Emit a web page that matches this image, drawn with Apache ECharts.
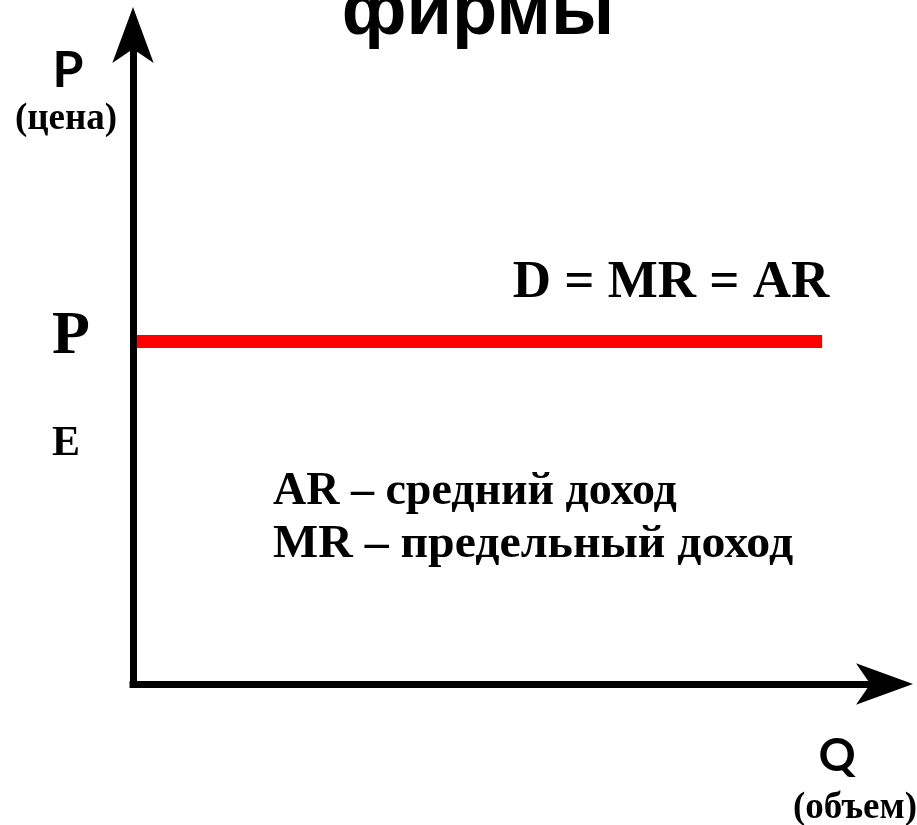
<!DOCTYPE html>
<html>
<head>
<meta charset="utf-8">
<title>Спрос на продукцию фирмы</title>
<script src="https://cdn.jsdelivr.net/npm/echarts@6/dist/echarts.min.js"></script>
<style>
  html, body { margin: 0; padding: 0; background: #fff; }
  #chart { width: 917px; height: 825px; }
</style>
</head>
<body>
<div id="chart"></div>
<script>
// данные: горизонтальная кривая спроса D = MR = AR
const quantity = [0.05, 9.02]
const price = [5.18, 5.18]

const axisRange = { x: [0, 10], y: [0, 10] }

const serif = '"Liberation Serif", "Times New Roman", serif'
const sans = '"Liberation Sans", Arial, sans-serif'
const label = '"Lato", "Open Sans", sans-serif'

// подписи
const texts = [
  { text: 'фирмы', x: 478, y: 14, font: sans, size: 74 },
  { text: 'P', x: 68, y: 71, font: label, size: 50 },
  { text: '(цена)', x: 66, y: 119, font: serif, size: 37 },
  { text: 'P', x: 71, y: 337, font: serif, size: 62 },
  { text: 'E', x: 66, y: 444, font: serif, size: 42 },
  { text: 'D = MR = AR', x: 671, y: 283, font: serif, size: 53 },
  { text: 'AR – средний доход', x: 273, y: 492, font: serif, size: 46, align: 'left' },
  { text: 'MR – предельный доход', x: 273, y: 545, font: serif, size: 46, align: 'left', scaleX: 1.04 },
  { text: 'Q', x: 837, y: 756, font: label, size: 46 },
  { text: '(объем)', x: 855, y: 808, font: serif, size: 37 }
]

const chartDom = document.getElementById('chart')
const chart = echarts.init(chartDom)

const axisLine = (symbolSize) => ({
  show: true,
  onZero: false,
  symbol: ['none', 'arrow'],
  symbolSize: symbolSize,
  symbolOffset: [0, 16],
  lineStyle: { color: '#000', width: 7, cap: 'square' }
})

const option = {
  backgroundColor: '#fff',
  animation: false,
  grid: { left: 133, right: 20, top: 23, bottom: 141 },
  xAxis: {
    type: 'value',
    min: axisRange.x[0],
    max: axisRange.x[1],
    axisLine: axisLine([31, 57]),
    axisTick: { show: false },
    axisLabel: { show: false },
    splitLine: { show: false }
  },
  yAxis: {
    type: 'value',
    min: axisRange.y[0],
    max: axisRange.y[1],
    axisLine: axisLine([31, 56]),
    axisTick: { show: false },
    axisLabel: { show: false },
    splitLine: { show: false }
  },
  series: [
    {
      name: 'D = MR = AR',
      type: 'line',
      data: quantity.map((q, i) => [q, price[i]]),
      symbol: 'none',
      lineStyle: { color: '#ff0000', width: 13 },
      z: 3
    }
  ],
  graphic: texts.map(t => ({
    type: 'text',
    x: t.x,
    y: t.y,
    scaleX: t.scaleX || 1,
    style: {
      text: t.text,
      font: 'bold ' + t.size + 'px ' + t.font,
      fill: '#000',
      align: t.align || 'center',
      verticalAlign: 'middle'
    }
  }))
}

chart.setOption(option)

window.addEventListener('resize', () => chart.resize())
</script>
</body>
</html>
